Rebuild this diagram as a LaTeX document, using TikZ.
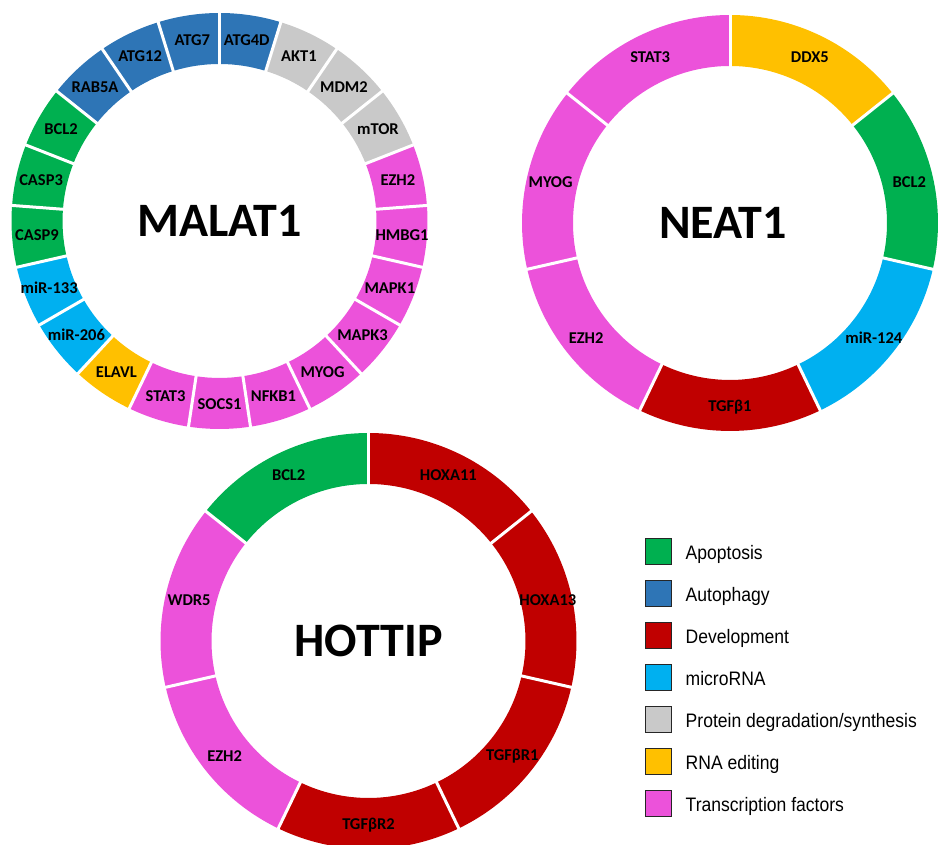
\documentclass[tikz,border=0pt]{standalone}
\usepackage{fontspec}
\setmainfont{Carlito}
\newfontfamily\legendfont[FakeStretch=0.9]{Liberation Sans}
\usetikzlibrary{positioning, calc}
% category colours
\definecolor{apopt}{HTML}{00B050}
\definecolor{autoph}{HTML}{2E75B6}
\definecolor{devel}{HTML}{C00000}
\definecolor{mirna}{HTML}{00B0F0}
\definecolor{protdeg}{HTML}{C9C9C9}
\definecolor{rnaedit}{HTML}{FFC000}
\definecolor{tfpink}{HTML}{EC52DA}
\tikzset{
  x=1pt, y=1pt, % one unit is one pixel of the figure
  seglabel/.style={font=\fontsize{16.5}{17}\selectfont\bfseries, inner sep=0pt},
  ringname/.style={font=\fontsize{48}{50}\selectfont\bfseries, inner sep=0pt},
  gapline/.style={white, line width=3pt}, % white cut between two sectors
  legbox/.style={draw=black!85, line width=1pt, minimum size=26pt, inner sep=0pt},
  legtext/.style={font=\legendfont\fontsize{19.5}{20}\selectfont, inner sep=0pt},
}

\begin{document}
\begin{tikzpicture}
  \useasboundingbox (0,0) rectangle (938,845);

  \coordinate (malat_c) at (219.5,624);
  \coordinate (neat_c) at (730,622);
  \coordinate (hottip_c) at (368.5,204);

  % MALAT1 ring, 21 sectors clockwise from the top
  \begin{scope}[shift={(malat_c)}]
    \foreach \gene/\col [count=\k from 0] in {ATG4D/autoph, AKT1/protdeg,
      MDM2/protdeg, mTOR/protdeg, EZH2/tfpink, HMBG1/tfpink, MAPK1/tfpink,
      MAPK3/tfpink, MYOG/tfpink, NFKB1/tfpink, SOCS1/tfpink, STAT3/tfpink,
      ELAVL/rnaedit, miR-206/mirna, miR-133/mirna, CASP9/apopt, CASP3/apopt,
      BCL2/apopt, RAB5A/autoph, ATG12/autoph, ATG7/autoph}{
      \pgfmathsetmacro\aone{90-\k*360/21}
      \pgfmathsetmacro\atwo{\aone-360/21}
      \fill[\col] (\aone:208pt) arc[start angle=\aone, end angle=\atwo, radius=208pt]
        -- (\atwo:157pt) arc[start angle=\atwo, end angle=\aone, radius=157pt] -- cycle;
    }
    \foreach \k in {0,...,20}{
      \pgfmathsetmacro\aone{90-\k*360/21}
      \draw[gapline] (\aone:154pt) -- (\aone:211pt);
    }
    \foreach \gene [count=\k from 0] in {ATG4D, AKT1, MDM2, mTOR, EZH2, HMBG1,
      MAPK1, MAPK3, MYOG, NFKB1, SOCS1, STAT3, ELAVL, miR-206, miR-133, CASP9,
      CASP3, BCL2, RAB5A, ATG12, ATG7}{
      \pgfmathsetmacro\amid{90-(\k+0.5)*360/21}
      \node[seglabel] (malat_\k) at (\amid:183pt) {\gene};
    }
  \end{scope}
  \node[ringname] (malat) at (malat_c) {MALAT1};

  % NEAT1 ring, 7 sectors
  \begin{scope}[shift={(neat_c)}]
    \foreach \gene/\col [count=\k from 0] in {DDX5/rnaedit, BCL2/apopt,
      miR-124/mirna, TGFβ1/devel, EZH2/tfpink, MYOG/tfpink, STAT3/tfpink}{
      \pgfmathsetmacro\aone{90-\k*360/7}
      \pgfmathsetmacro\atwo{\aone-360/7}
      \fill[\col] (\aone:208pt) arc[start angle=\aone, end angle=\atwo, radius=208pt]
        -- (\atwo:157pt) arc[start angle=\atwo, end angle=\aone, radius=157pt] -- cycle;
    }
    \foreach \k in {0,...,6}{
      \pgfmathsetmacro\aone{90-\k*360/7}
      \draw[gapline] (\aone:154pt) -- (\aone:211pt);
    }
    \foreach \gene [count=\k from 0] in {DDX5, BCL2, miR-124, TGFβ1, EZH2,
      MYOG, STAT3}{
      \pgfmathsetmacro\amid{90-(\k+0.5)*360/7}
      \node[seglabel] (neat_\k) at (\amid:184pt) {\gene};
    }
  \end{scope}
  \node[ringname] (neat) at ([xshift=-7pt]neat_c) {NEAT1};

  % HOTTIP ring, 7 sectors
  \begin{scope}[shift={(hottip_c)}]
    \foreach \gene/\col [count=\k from 0] in {HOXA11/devel, HOXA13/devel,
      TGFβR1/devel, TGFβR2/devel, EZH2/tfpink, WDR5/tfpink, BCL2/apopt}{
      \pgfmathsetmacro\aone{90-\k*360/7}
      \pgfmathsetmacro\atwo{\aone-360/7}
      \fill[\col] (\aone:208pt) arc[start angle=\aone, end angle=\atwo, radius=208pt]
        -- (\atwo:157pt) arc[start angle=\atwo, end angle=\aone, radius=157pt] -- cycle;
    }
    \foreach \k in {0,...,6}{
      \pgfmathsetmacro\aone{90-\k*360/7}
      \draw[gapline] (\aone:154pt) -- (\aone:211pt);
    }
    \foreach \gene [count=\k from 0] in {HOXA11, HOXA13, TGFβR1, TGFβR2,
      EZH2, WDR5, BCL2}{
      \pgfmathsetmacro\amid{90-(\k+0.5)*360/7}
      \node[seglabel] (hottip_\k) at (\amid:184pt) {\gene};
    }
  \end{scope}
  \node[ringname] (hottip) at (hottip_c) {HOTTIP};

  % legend
  \foreach \col/\txt [count=\k from 0] in {apopt/Apoptosis, autoph/Autophagy,
    devel/Development, mirna/microRNA, protdeg/{Protein degradation/synthesis},
    rnaedit/RNA editing, tfpink/Transcription factors}{
    \node[legbox, fill=\col] (legbox_\k) at (658.5,293-42*\k) {};
    \node[legtext, anchor=base west] (legtext_\k)
      at ([xshift=13.5pt, yshift=-7.3pt]legbox_\k.east) {\txt};
  }
\end{tikzpicture}
\end{document}
